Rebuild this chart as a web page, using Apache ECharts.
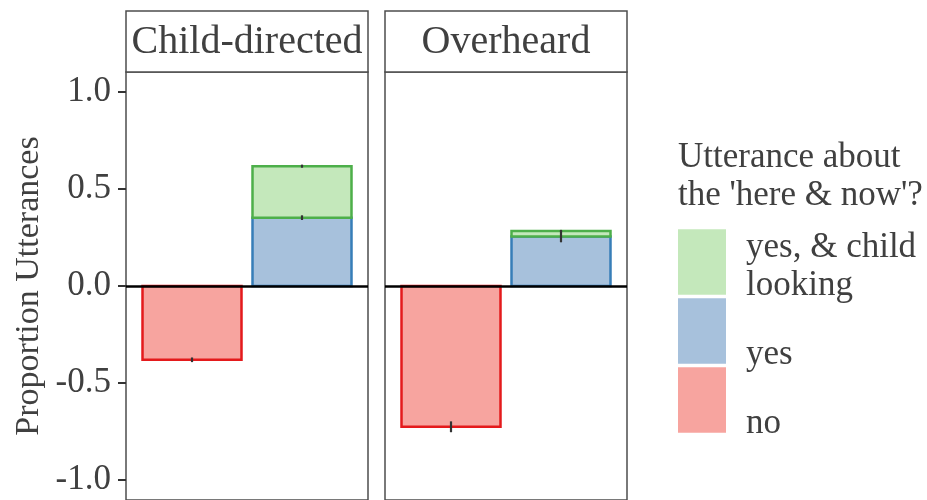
<!DOCTYPE html>
<html>
<head>
<meta charset="utf-8">
<script src="https://cdn.jsdelivr.net/npm/echarts@6/dist/echarts.min.js"></script>
<style>
  html, body { margin: 0; padding: 0; background: #fff; }
  #chart { width: 927px; height: 500px; }
</style>
</head>
<body>
<div id="chart"></div>
<script>
// Facets and response categories
const facets = ['Child-directed', 'Overheard'];
const responses = ['no', 'yes', 'yes, & child looking'];
// Proportions per facet (negative = not about the here & now)
const noProp = [-0.38, -0.725];
const yesProp = [0.352, 0.255];
const lookingProp = [0.265, 0.028];
// Standard errors per facet
const noSE = [0.012, 0.028];
const yesSE = [0.012, 0.03];
const lookingSE = [0.008, 0.006];
// Y tick values
const yTicks = [-1.0, -0.5, 0.0, 0.5, 1.0];

const fillColors = { 'no': '#F7A49F', 'yes': '#A7C1DC', 'yes, & child looking': '#C4E8BB' };
const lineColors = { 'no': '#E41A1C', 'yes': '#377EB8', 'yes, & child looking': '#4DAF4A' };
// legend labels as two-line blocks (a small spacer line on top nudges them down)
const legendText = {
  'no': '{s| }\n{t| }\n{t|no}',
  'yes': '{s| }\n{t| }\n{t|yes}',
  'yes, & child looking': '{s| }\n{t|yes, & child}\n{t|looking}'
};

const FONT = 'Liberation Serif';
const TEXT = '#404040';
const BORDER = '#4d4d4d';
const panelLeft = [126, 385];
const panelWidth = 242;
const panelTop = 72;
const panelHeight = 432;
const stripTop = 11;
const BAR_HALF = 0.45; // bar width 0.9 of a category unit

const chart = echarts.init(document.getElementById('chart'), null, { renderer: 'canvas' });

const grids = [], xAxes = [], yAxes = [], series = [], graphics = [];

// rectangle spanning [x - BAR_HALF, x + BAR_HALF] x [lo, hi] in data space
function barItem(params, api) {
  const x = api.value(0), lo = api.value(1), hi = api.value(2);
  const a = api.coord([x - BAR_HALF, hi]);
  const b = api.coord([x + BAR_HALF, lo]);
  return {
    type: 'rect',
    shape: { x: a[0], y: a[1], width: b[0] - a[0], height: b[1] - a[1] },
    style: api.style()
  };
}

facets.forEach((facet, i) => {
  grids.push({
    left: panelLeft[i], top: panelTop, width: panelWidth, height: panelHeight,
    show: true, borderColor: BORDER, borderWidth: 1.5, backgroundColor: 'transparent'
  });
  xAxes.push({
    gridIndex: i, type: 'value', min: 0.4, max: 2.6,
    show: false
  });
  yAxes.push({
    gridIndex: i, type: 'value', min: -1.102, max: 1.102,
    axisLine: { show: false },
    splitLine: { show: false },
    axisTick: { show: i === 0, length: 8, lineStyle: { color: '#333', width: 2 }, customValues: yTicks },
    axisLabel: {
      show: i === 0, customValues: yTicks, margin: 15,
      fontFamily: FONT, fontSize: 35, color: TEXT,
      formatter: v => v.toFixed(1)
    },
    name: i === 0 ? 'Proportion Utterances' : '',
    nameLocation: 'middle', nameGap: 80,
    nameTextStyle: { fontFamily: FONT, fontSize: 34, color: TEXT }
  });

  // "no" bar below zero, stacked "yes" then "yes, & child looking" above zero
  const stackTop = yesProp[i] + lookingProp[i];
  const bars = [
    { name: 'no', data: [[1, noProp[i], 0]] },
    { name: 'yes', data: [[2, 0, yesProp[i]]] },
    { name: 'yes, & child looking', data: [[2, yesProp[i], stackTop]] }
  ];
  bars.forEach((b, k) => {
    series.push({
      name: b.name, type: 'custom', xAxisIndex: i, yAxisIndex: i,
      data: b.data, renderItem: barItem, z: 2 + k, silent: true,
      itemStyle: { color: fillColors[b.name], borderColor: lineColors[b.name], borderWidth: 2.5 }
    });
  });

  // error bars at each (cumulative) bar end, plus zero reference line
  const errData = [
    [1, noProp[i], noSE[i]],
    [2, yesProp[i], yesSE[i]],
    [2, stackTop, lookingSE[i]]
  ];
  series.push({
    type: 'custom', xAxisIndex: i, yAxisIndex: i, z: 6, silent: true,
    data: errData,
    renderItem: (params, api) => {
      const x = api.value(0), c = api.value(1), e = api.value(2);
      const p1 = api.coord([x, c - e]);
      const p2 = api.coord([x, c + e]);
      return {
        type: 'line',
        shape: { x1: p1[0], y1: p1[1], x2: p2[0], y2: p2[1] },
        style: { stroke: '#333', lineWidth: 2.2 }
      };
    },
    markLine: {
      silent: true, symbol: 'none', label: { show: false },
      lineStyle: { color: '#000', width: 2.5, type: 'solid' },
      data: [{ yAxis: 0 }]
    }
  });

  // facet strip
  graphics.push({
    type: 'rect', z: 10,
    shape: { x: panelLeft[i], y: stripTop, width: panelWidth, height: panelTop - stripTop },
    style: { fill: '#fff', stroke: BORDER, lineWidth: 1.5 }
  });
  graphics.push({
    type: 'text', z: 11,
    x: panelLeft[i] + panelWidth / 2, y: (stripTop + panelTop) / 2 + 1,
    style: { text: facet, fontFamily: FONT, fontSize: 40, fill: TEXT, align: 'center', verticalAlign: 'middle' }
  });
});

// legend title
graphics.push({
  type: 'text', z: 11, x: 678, y: 139,
  style: {
    text: "Utterance about\nthe 'here & now'?",
    fontFamily: FONT, fontSize: 35, lineHeight: 38, fill: TEXT, align: 'left', verticalAlign: 'top'
  }
});

chart.setOption({
  animation: false,
  backgroundColor: '#fff',
  grid: grids,
  xAxis: xAxes,
  yAxis: yAxes,
  legend: {
    orient: 'vertical', left: 678, top: 219, padding: 0,
    itemWidth: 48, itemHeight: 65.5, itemGap: -17,
    icon: 'rect',
    data: ['yes, & child looking', 'yes', 'no'],
    itemStyle: { borderWidth: 0 },
    selectedMode: false,
    formatter: name => legendText[name],
    textStyle: {
      fontFamily: FONT, fontSize: 35, lineHeight: 38, color: TEXT, padding: [0, 0, 0, 15],
      rich: {
        s: { fontFamily: FONT, fontSize: 1, lineHeight: 10, color: TEXT },
        t: { fontFamily: FONT, fontSize: 35, lineHeight: 38, color: TEXT }
      }
    }
  },
  graphic: graphics,
  series: series
});
</script>
</body>
</html>
